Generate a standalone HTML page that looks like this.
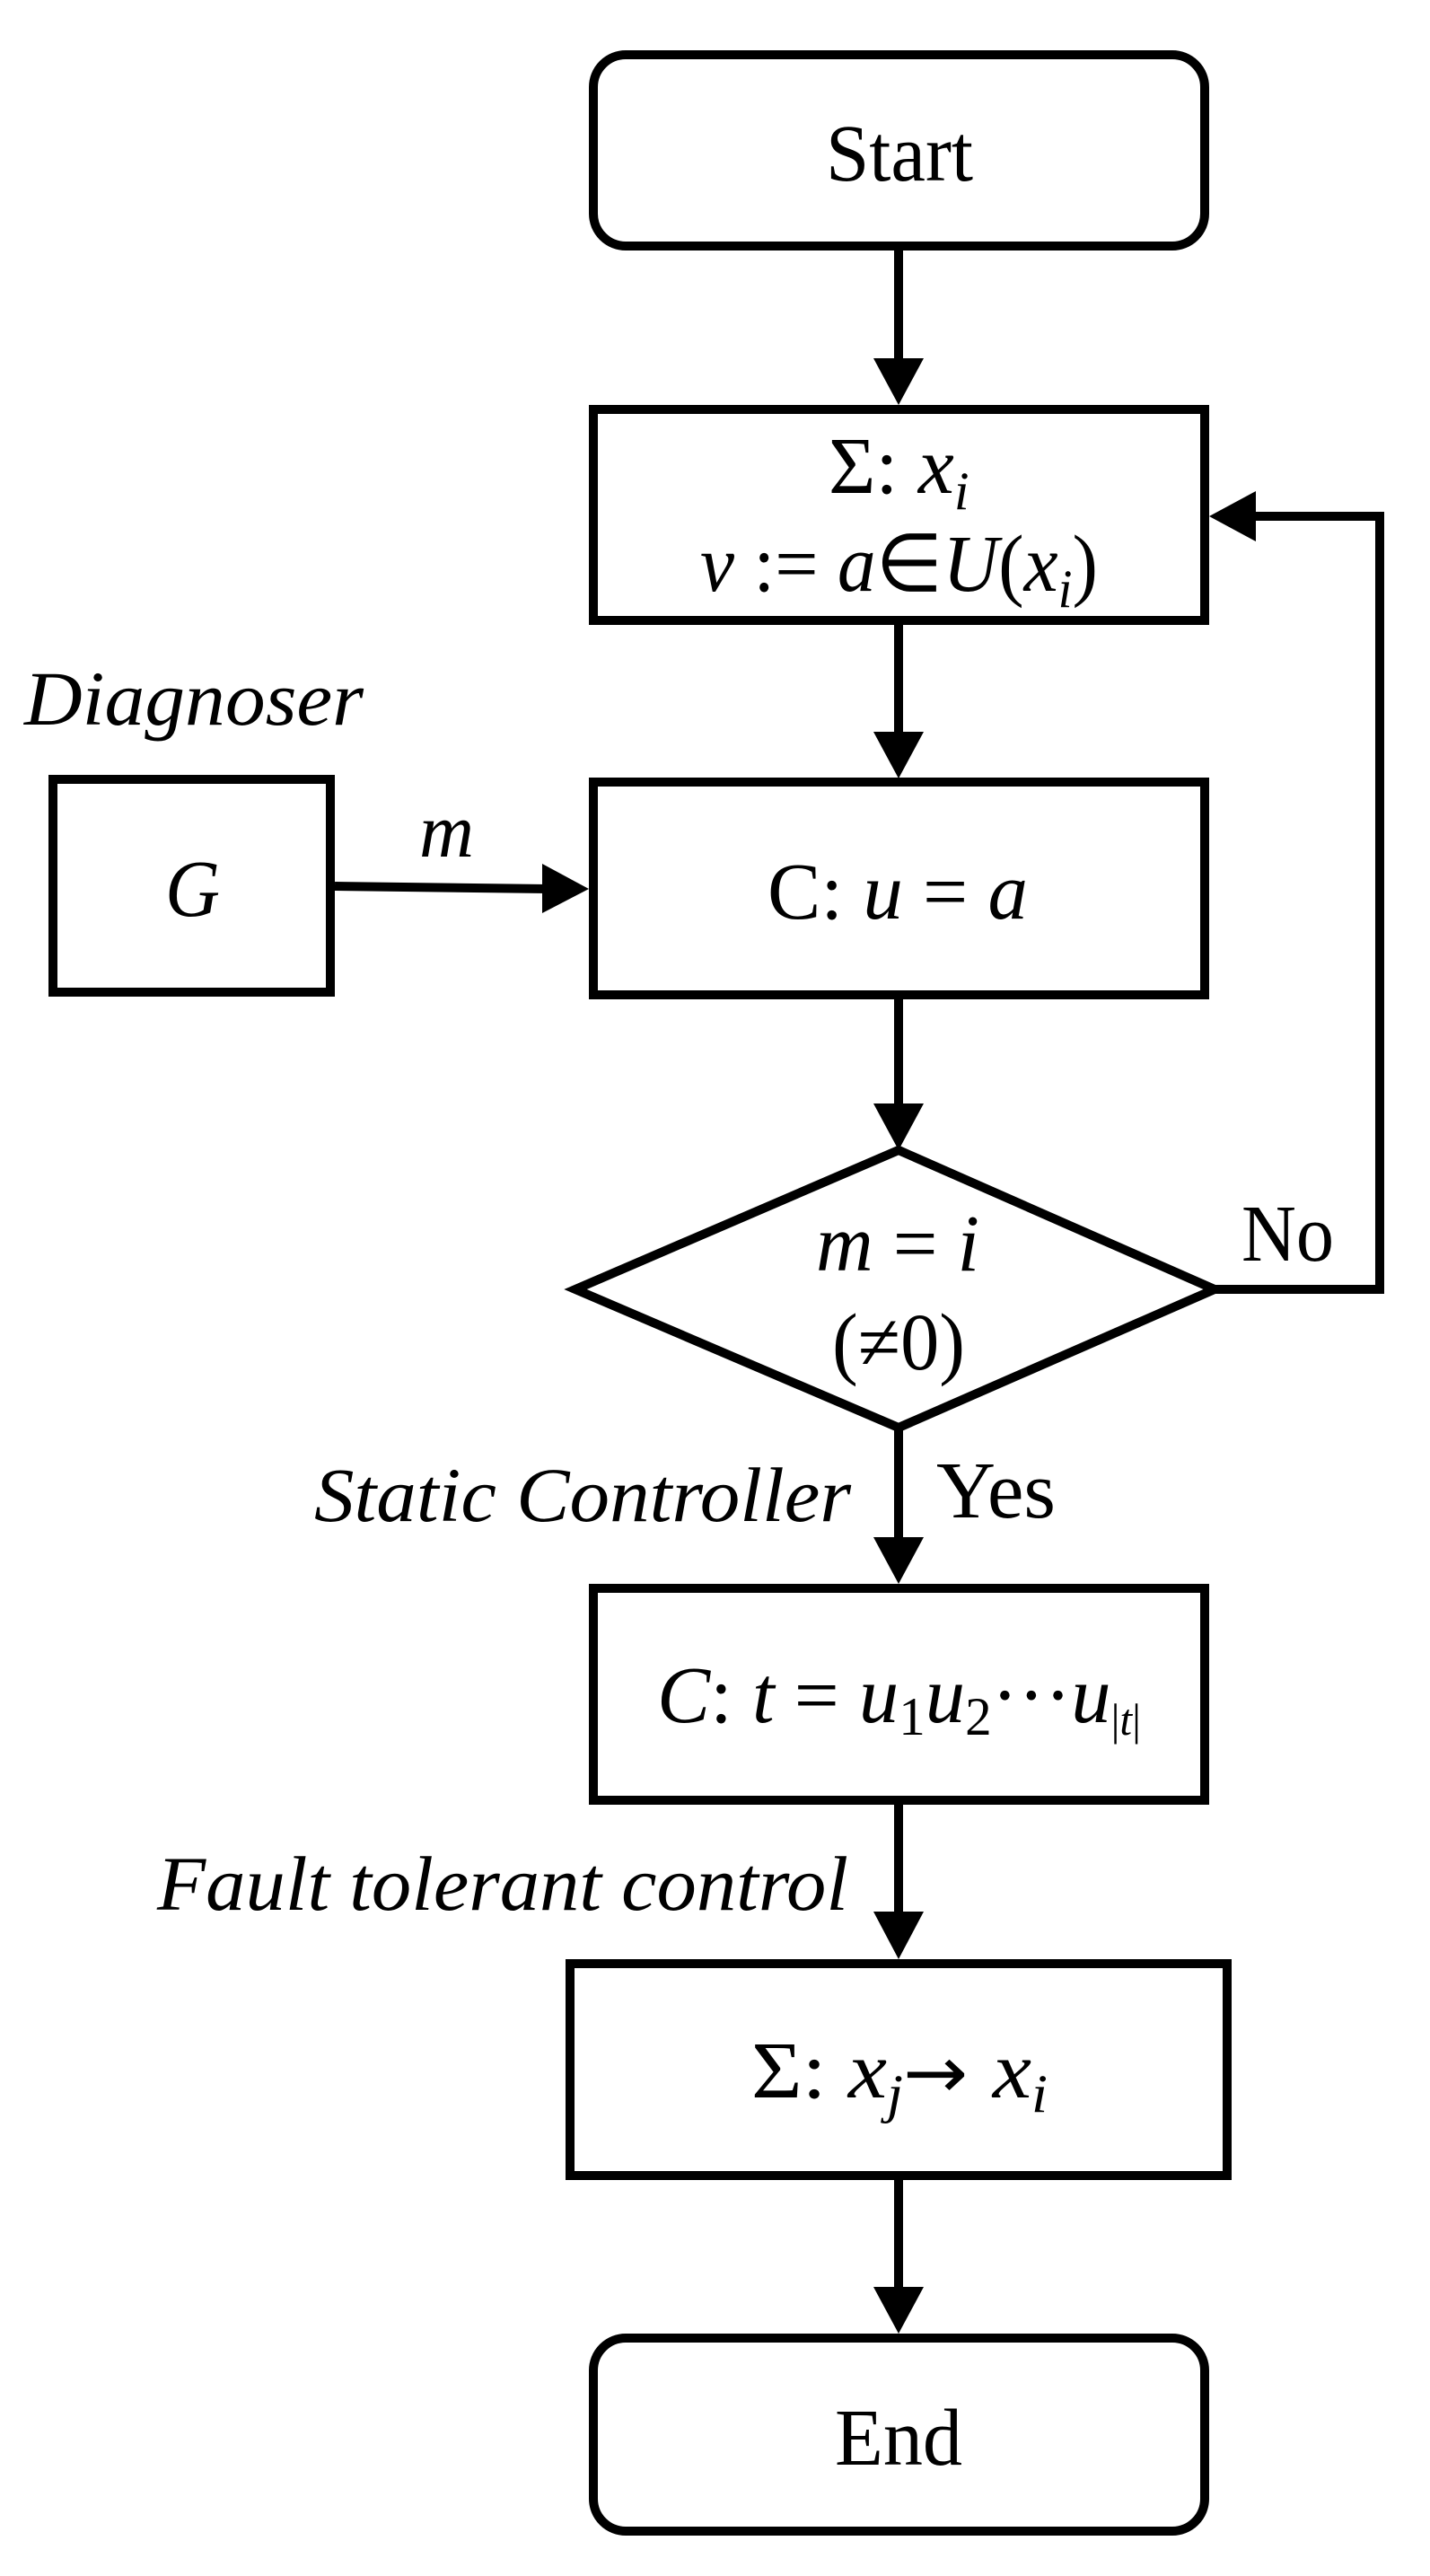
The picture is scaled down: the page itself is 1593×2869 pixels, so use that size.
<!DOCTYPE html>
<html><head><meta charset="utf-8"><style>html,body{margin:0;padding:0;background:#fff}</style></head>
<body>
<svg width="1593" height="2864" viewBox="0 0 1593 2864" xmlns="http://www.w3.org/2000/svg" font-family="Liberation Serif, serif" fill="#000">
<g fill="none" stroke="#000" stroke-width="10">
<rect x="661" y="61" width="681" height="213" rx="36"/>
<rect x="661" y="456" width="681" height="235"/>
<rect x="661" y="871" width="681" height="237"/>
<rect x="59" y="868" width="309" height="237"/>
<polygon points="1001,1281 1353,1436 1001,1590 641,1436"/>
<rect x="661" y="1769" width="681" height="236"/>
<rect x="635" y="2187" width="732" height="236"/>
<rect x="661" y="2604" width="681" height="215" rx="36"/>
<line x1="1001" y1="279" x2="1001" y2="410"/>
<line x1="1001" y1="696" x2="1001" y2="830"/>
<line x1="1001" y1="1113" x2="1001" y2="1240"/>
<line x1="1001" y1="1590" x2="1001" y2="1720"/>
<line x1="1001" y1="2010" x2="1001" y2="2140"/>
<line x1="1001" y1="2428" x2="1001" y2="2560"/>
<polyline points="1353,1436 1537,1436 1537,575 1390,575"/>
<line x1="373" y1="987" x2="610" y2="990"/>
</g>
<g stroke="none">
<path d="M973,399 L1029,399 L1001,451 z"/>
<path d="M973,815 L1029,815 L1001,867 z"/>
<path d="M973,1229 L1029,1229 L1001,1281 z"/>
<path d="M973,1712 L1029,1712 L1001,1764 z"/>
<path d="M973,2129 L1029,2129 L1001,2182 z"/>
<path d="M973,2547 L1029,2547 L1001,2599 z"/>
<path d="M1399,547 L1399,603 L1347,575 z"/>
<path d="M604,962 L604,1017 L656,990 z"/>
</g>
<g font-size="90">
<text x="920" y="201" textLength="164" lengthAdjust="spacingAndGlyphs">Start</text>
<text x="923" y="549">Σ: <tspan font-style="italic">x</tspan><tspan font-style="italic" font-size="60" dy="18">i</tspan></text>
<text x="780" y="658" textLength="443" lengthAdjust="spacingAndGlyphs"><tspan font-style="italic">v</tspan> := <tspan font-style="italic">a</tspan>∈<tspan font-style="italic">U</tspan>(<tspan font-style="italic">x</tspan><tspan font-style="italic" font-size="60" dy="18">i</tspan><tspan dy="-18">)</tspan></text>
<text x="855" y="1023" textLength="290" lengthAdjust="spacingAndGlyphs">C: <tspan font-style="italic">u</tspan> = <tspan font-style="italic">a</tspan></text>
<text x="184" y="1020" font-style="italic" textLength="61" lengthAdjust="spacingAndGlyphs">G</text>
<text x="27" y="807" font-style="italic" font-size="86" textLength="378" lengthAdjust="spacingAndGlyphs">Diagnoser</text>
<text x="467" y="954" font-style="italic" font-size="86" textLength="61" lengthAdjust="spacingAndGlyphs">m</text>
<text x="909" y="1415" textLength="182" lengthAdjust="spacingAndGlyphs"><tspan font-style="italic">m</tspan> = <tspan font-style="italic">i</tspan></text>
<text x="927" y="1525" textLength="148" lengthAdjust="spacingAndGlyphs">(≠0)</text>
<text x="1383" y="1404" textLength="103" lengthAdjust="spacingAndGlyphs">No</text>
<text x="350" y="1694" font-style="italic" font-size="86" textLength="598" lengthAdjust="spacingAndGlyphs">Static Controller</text>
<text x="1043" y="1690" textLength="133" lengthAdjust="spacingAndGlyphs">Yes</text>
<text x="732" y="1918" textLength="539" lengthAdjust="spacingAndGlyphs"><tspan font-style="italic">C</tspan>: <tspan font-style="italic">t</tspan> = <tspan font-style="italic">u</tspan><tspan font-size="60" dy="14">1</tspan><tspan font-style="italic" dy="-14">u</tspan><tspan font-size="60" dy="14">2</tspan><tspan dy="-14">···</tspan><tspan font-style="italic">u</tspan><tspan font-size="50" dy="14">|<tspan font-style="italic">t</tspan>|</tspan></text>
<text x="175" y="2127" font-style="italic" font-size="86" textLength="770" lengthAdjust="spacingAndGlyphs">Fault tolerant control</text>
<text x="837" y="2336" textLength="330" lengthAdjust="spacingAndGlyphs">Σ: <tspan font-style="italic">x</tspan><tspan font-style="italic" font-size="60" dy="16">j</tspan><tspan dy="-16" font-family="DejaVu Sans, sans-serif" font-size="80">→ </tspan><tspan font-style="italic">x</tspan><tspan font-style="italic" font-size="60" dy="16">i</tspan></text>
<text x="930" y="2745" textLength="142" lengthAdjust="spacingAndGlyphs">End</text>
</g>
</svg>
</body></html>
